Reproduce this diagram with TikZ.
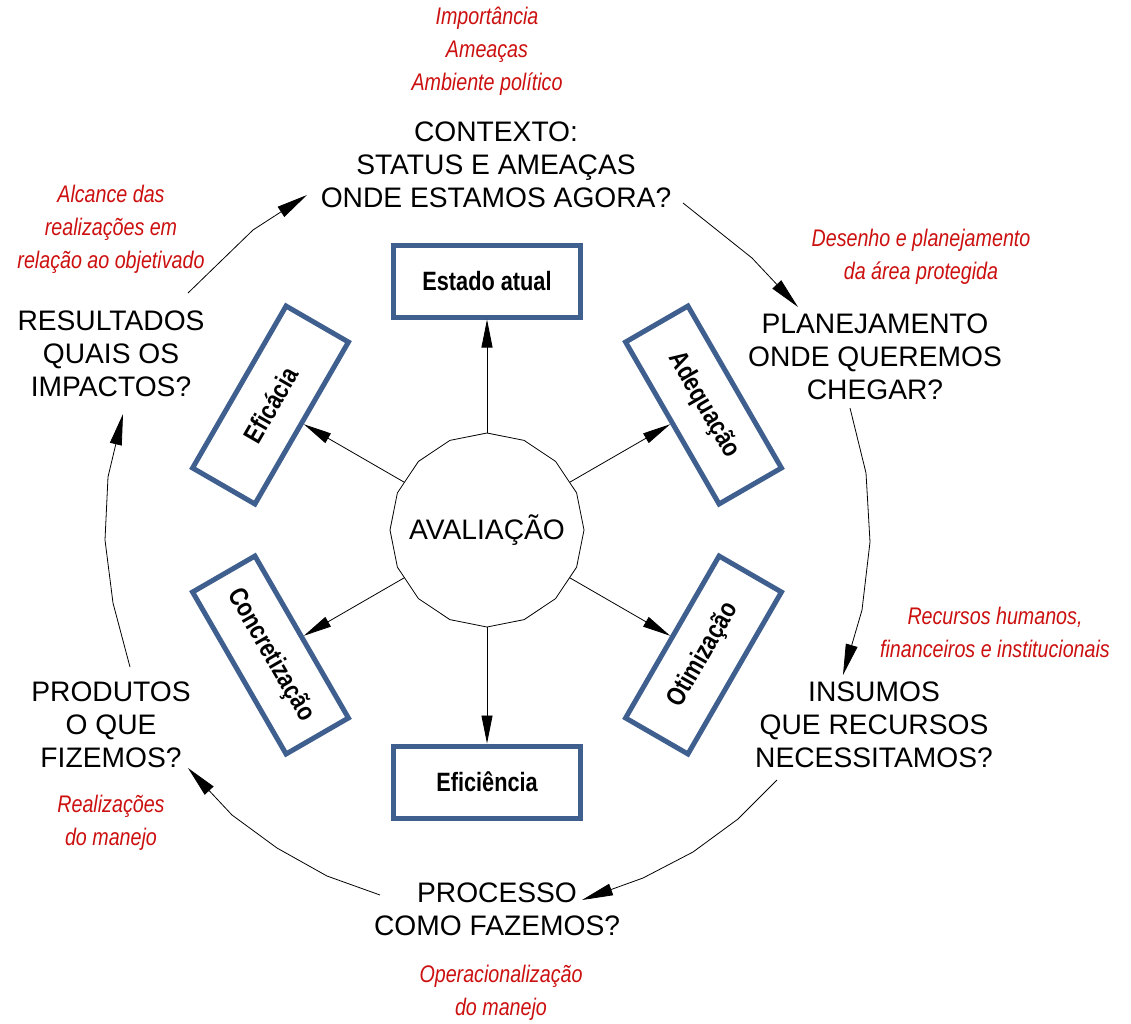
\documentclass[tikz,border=0pt]{standalone}
\usepackage{fontspec}
\setmainfont{Liberation Sans}
\newfontfamily\narrowfont[FakeStretch=0.82]{Liberation Sans}
\usetikzlibrary{arrows.meta,shapes.geometric}
\definecolor{boxblue}{HTML}{3F5F8F}
\definecolor{notered}{HTML}{CC1010}

\begin{document}
\begin{tikzpicture}[x=1pt,y=1pt,
  mainlabel/.style={align=center,inner sep=0pt,font=\fontsize{28.2}{32.8}\selectfont},
  notelabel/.style={align=center,inner sep=0pt,text=notered,font=\narrowfont\itshape\fontsize{24}{33}\selectfont},
  stagebox/.style={draw=boxblue,line width=5pt,minimum width=187pt,minimum height=72pt,
    inner sep=0pt,font=\narrowfont\bfseries\fontsize{26.5}{30}\selectfont},
  cyclearrow/.style={line width=0.8pt,-{Triangle[length=31pt,width=12pt]}},
  innerarrow/.style={line width=0.8pt,-{Triangle[length=28pt,width=11pt]}}
]
\useasboundingbox (0,0) rectangle (1131,-1023);

\node[draw,regular polygon,regular polygon sides=16,shape border rotate=11.25,
  minimum size=194pt,inner sep=0pt,line width=0.8pt,
  label={[font=\fontsize{28.2}{32.8}\selectfont]center:AVALIAÇÃO}]
  (aval) at (487,-530) {};

\node[stagebox] (estado) at (487,-281) {Estado atual};
\node[stagebox,rotate=-60] (adeq) at (703.5,-405) {Adequação};
\node[stagebox,rotate=60] (otim) at (703.5,-655) {Otimização};
\node[stagebox] (efici) at (487,-782) {Eficiência};
\node[stagebox,rotate=-60] (concr) at (270.5,-655) {Concretização};
\node[stagebox,rotate=60] (efica) at (270.5,-405) {Eficácia};

\draw[innerarrow] (aval.90) -- (estado.south);
\draw[innerarrow] (aval.30) -- (adeq.south);
\draw[innerarrow] (aval.330) -- (otim.north);
\draw[innerarrow] (aval.270) -- (efici.north);
\draw[innerarrow] (aval.210) -- (concr.north);
\draw[innerarrow] (aval.150) -- (efica.south);

\node[notelabel] (ameacas) at (487,-51) {Importância\\Ameaças\\Ambiente político};
\node[mainlabel] (contexto) at (496,-165) {CONTEXTO:\\STATUS E AMEAÇAS\\ONDE ESTAMOS AGORA?};
\node[notelabel] (desenho) at (921,-257) {Desenho e planejamento\\da área protegida};
\node[mainlabel] (planej) at (875,-357) {PLANEJAMENTO\\ONDE QUEREMOS\\CHEGAR?};
\node[notelabel] (recursos) at (995,-632) {Recursos humanos,\\financeiros e institucionais};
\node[mainlabel] (insumos) at (874,-725) {INSUMOS\\QUE RECURSOS\\NECESSITAMOS?};
\node[mainlabel] (processo) at (497,-909) {PROCESSO\\COMO FAZEMOS?};
\node[notelabel] (operac) at (501,-993) {Operacionalização\\do manejo};
\node[mainlabel] (produtos) at (111,-725) {PRODUTOS\\O QUE\\FIZEMOS?};
\node[notelabel] (realiz) at (111,-823) {Realizações\\do manejo};
\node[mainlabel] (result) at (111,-354) {RESULTADOS\\QUAIS OS\\IMPACTOS?};
\node[notelabel] (alcance) at (111,-229) {Alcance das\\realizações em\\relação ao objetivado};

\coordinate (contexto out) at (683,-203);
\coordinate (planej in) at (798,-307);
\coordinate (planej out) at (850,-408);
\coordinate (insumos in) at (843,-675);
\coordinate (insumos out) at (777,-780);
\coordinate (processo in) at (582,-900);
\coordinate (processo out) at (380,-895);
\coordinate (produtos in) at (188,-768);
\coordinate (produtos out) at (130,-667);
\coordinate (result in) at (123,-414);
\coordinate (result out) at (188,-293);
\coordinate (contexto in) at (307,-195);

\draw[cyclearrow] (contexto out) -- (752,-258) -- (planej in);
\draw[cyclearrow] (planej out) -- (866,-473) -- (870,-542) -- (862,-610) -- (insumos in);
\draw[cyclearrow] (insumos out) -- (738,-819) -- (693,-852) -- (643,-878) -- (processo in);
\draw[cyclearrow] (processo out) -- (327,-876) -- (277,-848) -- (232,-815) -- (produtos in);
\draw[cyclearrow] (produtos out) -- (113,-603) -- (105,-540) -- (108,-477) -- (result in);
\draw[cyclearrow] (result out) -- (253,-230) -- (contexto in);
\end{tikzpicture}
\end{document}
